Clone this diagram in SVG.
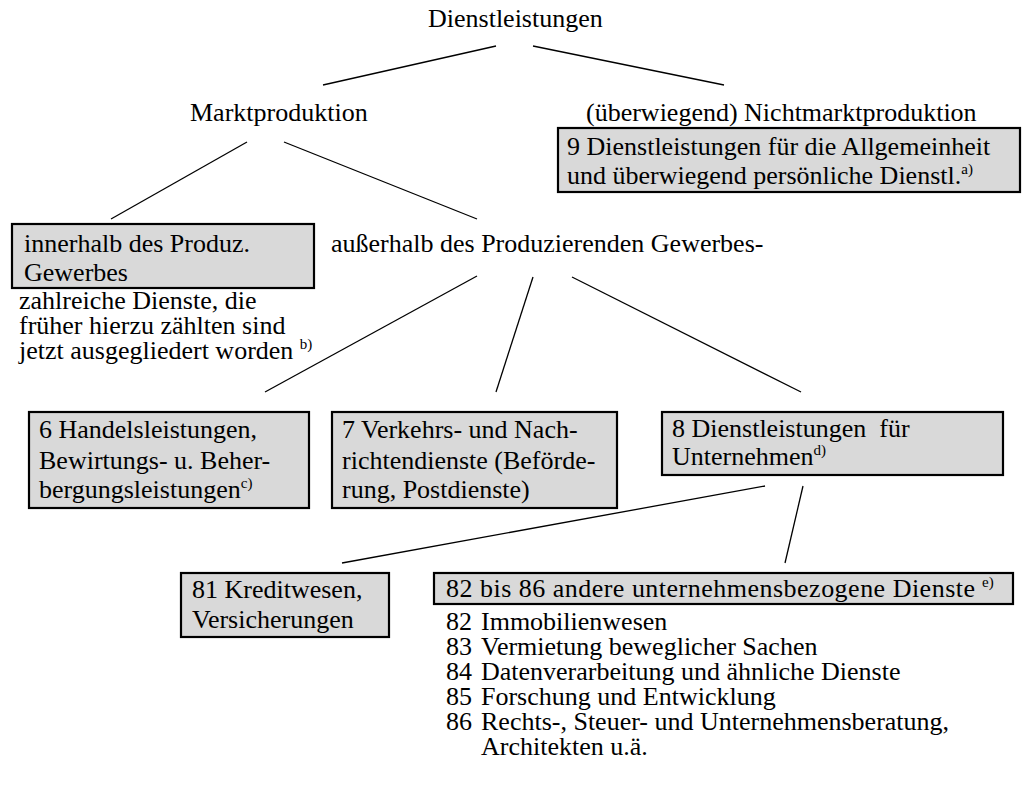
<svg xmlns="http://www.w3.org/2000/svg" width="1027" height="789" viewBox="0 0 1027 789">
<style>
text { font-family: 'Liberation Serif', 'Times New Roman', serif; font-size: 26px; fill: #000; }
.box { fill: #d9d9d9; stroke: #000; stroke-width: 2.2; }
.sup { font-size: 15px; }
#connectors line { stroke: #000; stroke-width: 1.3; }
</style>
<rect width="1027" height="789" fill="#fff"/>
<g id="connectors">
<line x1="496" y1="46" x2="323" y2="85"/>
<line x1="533" y1="46" x2="724" y2="85"/>
<line x1="247" y1="142" x2="111" y2="219"/>
<line x1="284" y1="142" x2="477" y2="219"/>
<line x1="477" y1="276" x2="265" y2="392"/>
<line x1="533" y1="277" x2="496" y2="392"/>
<line x1="572" y1="277" x2="801" y2="392"/>
<line x1="765" y1="486" x2="342" y2="563"/>
<line x1="803" y1="486" x2="785" y2="563"/>
</g>
<g id="n-dienstleistungen">
<text x="428" y="27">Dienstleistungen</text>
</g>
<g id="n-marktproduktion">
<text x="190" y="121">Marktproduktion</text>
</g>
<g id="n-nichtmarkt">
<text x="586" y="121">(überwiegend) Nichtmarktproduktion</text>
</g>
<g id="n-9">
<rect class="box" x="558" y="128" width="462" height="64"/>
<text x="567" y="155">9 Dienstleistungen für die Allgemeinheit</text>
<text x="567" y="184">und überwiegend persönliche Dienstl.<tspan class="sup" dy="-10">a)</tspan></text>
</g>
<g id="n-innerhalb">
<rect class="box" x="12" y="224" width="302" height="64"/>
<text x="24" y="252">innerhalb des Produz.</text>
<text x="24" y="281">Gewerbes</text>
<text x="19" y="309">zahlreiche Dienste, die</text>
<text x="19" y="334">früher hierzu zählten sind</text>
<text x="19" y="359">jetzt ausgegliedert worden <tspan class="sup" dy="-10">b)</tspan></text>
</g>
<g id="n-ausserhalb">
<text x="331" y="252">außerhalb des Produzierenden Gewerbes-</text>
</g>
<g id="n-6">
<rect class="box" x="29" y="412" width="280" height="96"/>
<text x="39" y="438">6 Handelsleistungen,</text>
<text x="39" y="469">Bewirtungs- u. Beher-</text>
<text x="39" y="498">bergungsleistungen<tspan class="sup" dy="-10">c)</tspan></text>
</g>
<g id="n-7">
<rect class="box" x="332" y="412" width="285" height="96"/>
<text x="342" y="438">7 Verkehrs- und Nach-</text>
<text x="342" y="469">richtendienste (Beförde-</text>
<text x="342" y="498">rung, Postdienste)</text>
</g>
<g id="n-8">
<rect class="box" x="662" y="412" width="341" height="63"/>
<text x="672" y="437" xml:space="preserve">8 Dienstleistungen  für</text>
<text x="672" y="465">Unternehmen<tspan class="sup" dy="-10">d)</tspan></text>
</g>
<g id="n-81">
<rect class="box" x="181" y="573" width="208" height="64"/>
<text x="192" y="598">81 Kreditwesen,</text>
<text x="192" y="628">Versicherungen</text>
</g>
<g id="n-82">
<rect class="box" x="434" y="573" width="579" height="31"/>
<text x="446" y="597" textLength="529" lengthAdjust="spacing">82 bis 86 andere unternehmensbezogene Dienste</text>
<text class="sup" x="982" y="587">e)</text>
<text y="630"><tspan x="446">82</tspan><tspan x="481">Immobilienwesen</tspan></text>
<text y="655"><tspan x="446">83</tspan><tspan x="481">Vermietung beweglicher Sachen</tspan></text>
<text y="680"><tspan x="446">84</tspan><tspan x="481">Datenverarbeitung und ähnliche Dienste</tspan></text>
<text y="705"><tspan x="446">85</tspan><tspan x="481">Forschung und Entwicklung</tspan></text>
<text y="730"><tspan x="446">86</tspan><tspan x="481">Rechts-, Steuer- und Unternehmensberatung,</tspan></text>
<text x="481" y="755">Architekten u.ä.</text>
</g>
</svg>
